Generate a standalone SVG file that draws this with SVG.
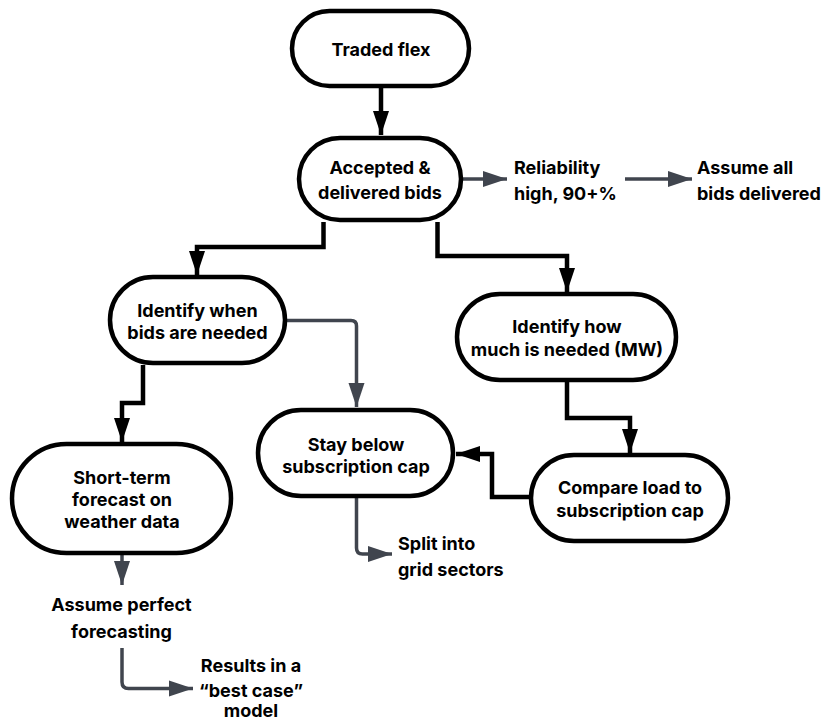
<svg xmlns="http://www.w3.org/2000/svg" width="825" height="722" viewBox="0 0 825 722">
<defs>
<style>
.node{fill:#ffffff;stroke:#000000;stroke-width:4.5}
.t{font-family:Inter,"Liberation Sans",Arial,sans-serif;font-weight:700;font-size:18px;fill:#000000}
.c{text-anchor:middle}
.blk{fill:none;stroke:#000000;stroke-width:4.5}
.gry{fill:none;stroke:#40454e;stroke-width:3.5;stroke-linejoin:round}
</style>
<marker id="ab" markerUnits="userSpaceOnUse" markerWidth="24" markerHeight="18" refX="24" refY="8" orient="auto" viewBox="0 0 24 16">
<path d="M0,0 L24,8 L0,16 Z" fill="#000000"/>
</marker>
<marker id="ag" markerUnits="userSpaceOnUse" markerWidth="24" markerHeight="18" refX="24" refY="8" orient="auto" viewBox="0 0 24 16">
<path d="M0,0 L24,8 L0,16 Z" fill="#40454e"/>
</marker>
</defs>
<rect width="825" height="722" fill="#ffffff"/>
<g id="connectors">
<path class="blk" d="M381,88 V135" marker-end="url(#ab)"/>
<path class="blk" d="M323.5,222 V247 H197 V275" marker-end="url(#ab)"/>
<path class="blk" d="M437.5,222 V256 H567 V292" marker-end="url(#ab)"/>
<path class="blk" d="M143,365 V403 H122 V442" marker-end="url(#ab)"/>
<path class="blk" d="M567,382 V418 H630 V453" marker-end="url(#ab)"/>
<path class="blk" d="M529,497 H492 V454 H456" marker-end="url(#ab)"/>
<path class="gry" d="M463,179 H507" marker-end="url(#ag)"/>
<path class="gry" d="M625,179 H692" marker-end="url(#ag)"/>
<path class="gry" d="M287,320.5 H351 Q356.5,320.5 356.5,326 V407" marker-end="url(#ag)"/>
<path class="gry" d="M356.5,498 V548 Q356.5,554 362.5,554 H392" marker-end="url(#ag)"/>
<path class="gry" d="M122,555 V585" marker-end="url(#ag)"/>
<path class="gry" d="M122,648 V682 Q122,688.5 128.5,688.5 H193" marker-end="url(#ag)"/>
</g>
<g id="traded-flex">
<rect class="node" x="292" y="11" width="177" height="75" rx="37.5"/>
<text class="t c" x="381" y="56">Traded flex</text>
</g>
<g id="accepted">
<rect class="node" x="299" y="138" width="162" height="82" rx="41"/>
<text class="t c" x="380" y="174">Accepted &amp;</text>
<text class="t c" x="380" y="199">delivered bids</text>
</g>
<g id="identify-when">
<rect class="node" x="110" y="277" width="175" height="86" rx="43"/>
<text class="t c" x="197.5" y="317">Identify when</text>
<text class="t c" x="197.5" y="339">bids are needed</text>
</g>
<g id="identify-how">
<rect class="node" x="457" y="294" width="219" height="86" rx="43"/>
<text class="t c" x="567" y="333">Identify how</text>
<text class="t c" x="567" y="356">much is needed (MW)</text>
</g>
<g id="short-term">
<rect class="node" x="12" y="444" width="219" height="109" rx="54.5"/>
<text class="t c" x="122" y="484">Short-term</text>
<text class="t c" x="122" y="506">forecast on</text>
<text class="t c" x="122" y="528">weather data</text>
</g>
<g id="stay-below">
<rect class="node" x="258" y="410" width="195" height="86" rx="43"/>
<text class="t c" x="356" y="451">Stay below</text>
<text class="t c" x="356" y="473">subscription cap</text>
</g>
<g id="compare">
<rect class="node" x="531" y="455" width="197" height="86" rx="43"/>
<text class="t c" x="630" y="494">Compare load to</text>
<text class="t c" x="630" y="517">subscription cap</text>
</g>
<g id="reliability">
<text class="t" x="514" y="174">Reliability</text>
<text class="t" x="514" y="200">high, 90+%</text>
</g>
<g id="assume-all">
<text class="t" x="697" y="174">Assume all</text>
<text class="t" x="697" y="200">bids delivered</text>
</g>
<g id="split">
<text class="t" x="398" y="550">Split into</text>
<text class="t" x="398" y="576">grid sectors</text>
</g>
<g id="assume-perfect">
<text class="t c" x="121.5" y="611">Assume perfect</text>
<text class="t c" x="121.5" y="638">forecasting</text>
</g>
<g id="results">
<text class="t c" x="251" y="672">Results in a</text>
<text class="t c" x="251" y="697">“best case”</text>
<text class="t c" x="251" y="717">model</text>
</g>
</svg>
